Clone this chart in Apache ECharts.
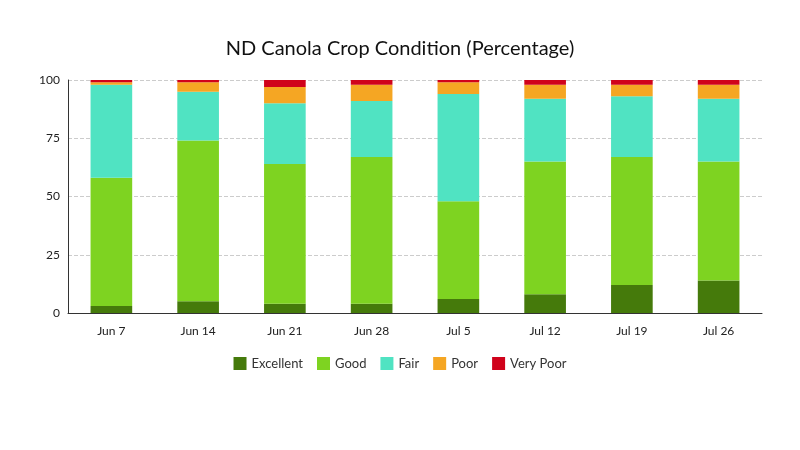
<!DOCTYPE html>
<html>
<head>
<meta charset="utf-8" />
<title>ND Canola Crop Condition</title>
<script src="https://cdn.jsdelivr.net/npm/echarts@6/dist/echarts.min.js"></script>
<style>
	html, body { margin: 0; padding: 0; background: #fff; }
	#main { width: 800px; height: 450px; }
</style>
</head>
<body>
<div id="main"></div>
<script>
	var weeks = ['Jun 7', 'Jun 14', 'Jun 21', 'Jun 28', 'Jul 5', 'Jul 12', 'Jul 19', 'Jul 26'];
	var excellent = [3, 5, 4, 4, 6, 8, 12, 14];
	var good = [55, 69, 60, 63, 42, 57, 55, 51];
	var fair = [40, 21, 26, 24, 46, 27, 26, 27];
	var poor = [1, 4, 7, 7, 5, 6, 5, 6];
	var veryPoor = [1, 1, 3, 2, 1, 2, 2, 2];
	var yTicks = [0, 25, 50, 75, 100];

	var colors = ['#457a0b', '#7ed321', '#50e3c2', '#f5a623', '#d0021b'];
	var names = ['Excellent', 'Good', 'Fair', 'Poor', 'Very Poor'];
	var values = [excellent, good, fair, poor, veryPoor];

	var myChart = echarts.init(document.getElementById('main'));
	var option = {
		textStyle: { fontFamily: 'Lato' },
		title: {
			text: 'ND Canola Crop Condition (Percentage)',
			left: 'center',
			top: 34,
			textStyle: { fontFamily: 'Lato', fontSize: 20, fontWeight: 'normal', color: '#111' }
		},
		legend: {
			bottom: 75,
			itemWidth: 13,
			itemHeight: 13,
			itemGap: 14,
			icon: 'rect',
			textStyle: { fontFamily: 'Lato', fontSize: 13, color: '#333' },
			data: names
		},
		grid: { left: 68, right: 38, top: 80, bottom: 137 },
		xAxis: {
			type: 'category',
			data: weeks,
			axisTick: { show: false },
			axisLine: { lineStyle: { color: '#333' } },
			axisLabel: { color: '#222', fontSize: 12, margin: 12 }
		},
		yAxis: {
			type: 'value',
			min: yTicks[0],
			max: yTicks[yTicks.length - 1],
			interval: 25,
			axisLine: { show: true, lineStyle: { color: '#333' } },
			axisLabel: { color: '#222', fontSize: 12 },
			splitLine: { lineStyle: { color: '#ccc', type: 'dashed' } }
		},
		series: names.map(function (n, i) {
			return {
				name: n,
				type: 'bar',
				stack: 'total',
				barWidth: '48%',
				itemStyle: { color: colors[i] },
				data: values[i]
			};
		})
	};
	myChart.setOption(option);
</script>
</body>
</html>
